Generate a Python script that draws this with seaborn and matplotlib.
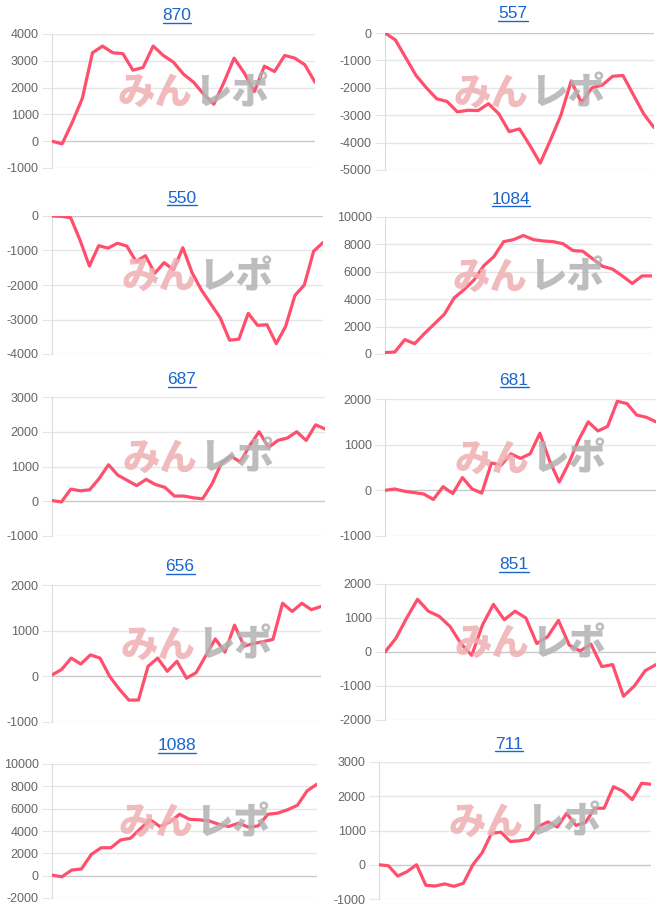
import matplotlib
matplotlib.use("Agg")
import matplotlib.pyplot as plt
import seaborn as sns
import pandas as pd
from matplotlib.lines import Line2D

# ---------------- data ----------------
titles = ["870", "557", "550", "1084", "687", "681", "656", "851", "1088", "711"]

m870 = [0, -100, 700, 1600, 3300, 3550, 3300, 3270, 2650, 2750, 3550, 3200, 2950,
        2500, 2200, 1750, 1380, 2200, 3100, 2550, 1850, 2800, 2600, 3200, 3100, 2850, 2200]
m557 = [0, -250, -900, -1550, -2000, -2400, -2500, -2880, -2820, -2830, -2580, -2950,
        -3600, -3500, -4100, -4750, -3900, -3000, -1750, -2550, -2000, -1900, -1580,
        -1550, -2250, -2950, -3450]
m550 = [0, -10, -50, -700, -1450, -860, -930, -790, -870, -1320, -1150, -1660, -1350,
        -1560, -920, -1650, -2150, -2550, -2950, -3600, -3570, -2820, -3170, -3150,
        -3700, -3200, -2300, -2000, -1020, -770]
m1084 = [100, 150, 1050, 750, 1500, 2200, 2900, 4100, 4700, 5400, 6450, 7100, 8200,
         8350, 8650, 8350, 8250, 8200, 8050, 7550, 7500, 6950, 6400, 6200, 5700, 5150,
         5700, 5700]
m687 = [20, -20, 350, 300, 330, 650, 1050, 750, 600, 450, 630, 480, 400, 150, 150, 100,
        70, 500, 1100, 1300, 1130, 1600, 2000, 1550, 1750, 1820, 2000, 1750, 2200, 2080]
m681 = [0, 30, -20, -50, -80, -200, 80, -70, 280, 30, -60, 600, 550, 800, 700, 800,
        1250, 650, 180, 600, 1100, 1500, 1300, 1400, 1950, 1900, 1650, 1600, 1500]
m656 = [30, 150, 400, 270, 470, 400, 0, -280, -520, -520, 220, 400, 110, 330, -40, 80,
        450, 820, 530, 1120, 660, 720, 760, 810, 1600, 1420, 1600, 1460, 1530]
m851 = [0, 400, 1000, 1550, 1200, 1050, 750, 250, -100, 800, 1400, 950, 1200, 1000,
        250, 450, 930, 200, 30, 230, -430, -370, -1300, -1000, -550, -370]
m1088 = [50, -100, 500, 600, 1900, 2500, 2500, 3200, 3350, 4200, 5000, 4400, 4800,
         5500, 5050, 5000, 4900, 4600, 4400, 4700, 4350, 4450, 5500, 5600, 5900, 6300,
         7600, 8200]
m711 = [0, -30, -330, -200, 0, -600, -620, -560, -630, -540, 0, 350, 920, 950, 680,
        700, 750, 1120, 1250, 1100, 1500, 1150, 1230, 1650, 1650, 2280, 2150, 1900,
        2380, 2350]

series = [m870, m557, m550, m1084, m687, m681, m656, m851, m1088, m711]

y_min = [-1000, -5000, -4000, 0, -1000, -1000, -1000, -2000, -2000, -1000]
y_max = [4000, 0, 0, 10000, 3000, 2000, 2000, 2000, 10000, 3000]
y_step = [1000, 1000, 1000, 2000, 1000, 1000, 1000, 1000, 2000, 1000]

# ---------------- layout (pixels) ----------------
W, H = 666, 910
boxes = [(52, 34, 315, 168), (385, 33, 654, 170),
         (52, 216, 323, 354), (385, 217, 652, 354),
         (52, 397, 325, 536), (385, 399, 656, 536),
         (52, 585, 321, 722), (385, 584, 656, 720),
         (52, 764, 317, 898), (379, 762, 651, 899)]
title_x = [177, 513, 182, 511, 182, 514, 180, 514, 177, 509]
title_base = [20.5, 18.5, 202.7, 203.7, 384, 384.7, 571, 569.3, 750.3, 748.7]

LINE = "#ff4f6d"
GRID = "#e6e6e6"
ZERO = "#c9c9c9"
TICK = "#666666"
BLUE = "#1a66cc"

sns.set_theme(style="white")
plt.rcParams["font.family"] = ["Liberation Sans", "DejaVu Sans"]

fig = plt.figure(figsize=(W / 100, H / 100), dpi=100)
fig.patch.set_facecolor("white")

title_texts = []
for i, vals in enumerate(series):
    x0, y0, x1, y1 = boxes[i]
    ax = fig.add_axes([x0 / W, 1 - y1 / H, (x1 - x0) / W, (y1 - y0) / H])
    ax.set_facecolor("none")
    df = pd.DataFrame({"idx": list(range(len(vals))), "value": vals})

    # watermark
    cx = (x0 + x1) / 2 + 10
    cy = (y0 + y1) / 2 - 8
    fig.text((cx - 1) / W, 1 - cy / H, "みん", ha="right", va="center",
             fontsize=27, fontweight="heavy", color="#efb0b2", alpha=0.85,
             family=["Noto Sans CJK JP", "DejaVu Sans"], zorder=0)
    fig.text((cx + 1) / W, 1 - cy / H, "レポ", ha="left", va="center",
             fontsize=27, fontweight="heavy", color="#b2b2b2", alpha=0.85,
             family=["Noto Sans CJK JP", "DejaVu Sans"], zorder=0)

    ticks = list(range(y_min[i], y_max[i] + 1, y_step[i]))
    for t in ticks:
        ax.axhline(t, color=ZERO if t == 0 else GRID, lw=1.0, zorder=1)

    sns.lineplot(data=df, x="idx", y="value", ax=ax, color=LINE, linewidth=2.3,
                 zorder=3)

    ax.set_xlim(0, len(vals) - 1)
    ax.set_ylim(y_min[i], y_max[i])
    ax.set_yticks(ticks)
    ax.set_yticklabels([str(t) for t in ticks])
    ax.set_xticks([])
    ax.set_xlabel("")
    ax.set_ylabel("")
    ax.tick_params(axis="y", length=7, width=0.8, color=GRID, pad=2.5,
                   labelsize=9, labelcolor=TICK, left=True)
    for side in ["top", "right", "bottom"]:
        ax.spines[side].set_visible(False)
    ax.spines["left"].set_color("#dcdcdc")
    ax.spines["left"].set_linewidth(0.8)

    t = fig.text(title_x[i] / W, 1 - title_base[i] / H, titles[i], ha="center",
                 va="baseline", fontsize=12.5, color=BLUE)
    title_texts.append((t, title_base[i]))

fig.canvas.draw()
renderer = fig.canvas.get_renderer()
for t, base in title_texts:
    bb = t.get_window_extent(renderer)
    yy = (H - base - 2.5) / H
    fig.add_artist(Line2D([bb.x0 / W, bb.x1 / W], [yy, yy], transform=fig.transFigure,
                          color=BLUE, lw=1.0))

fig.savefig("out.png", dpi=100)
